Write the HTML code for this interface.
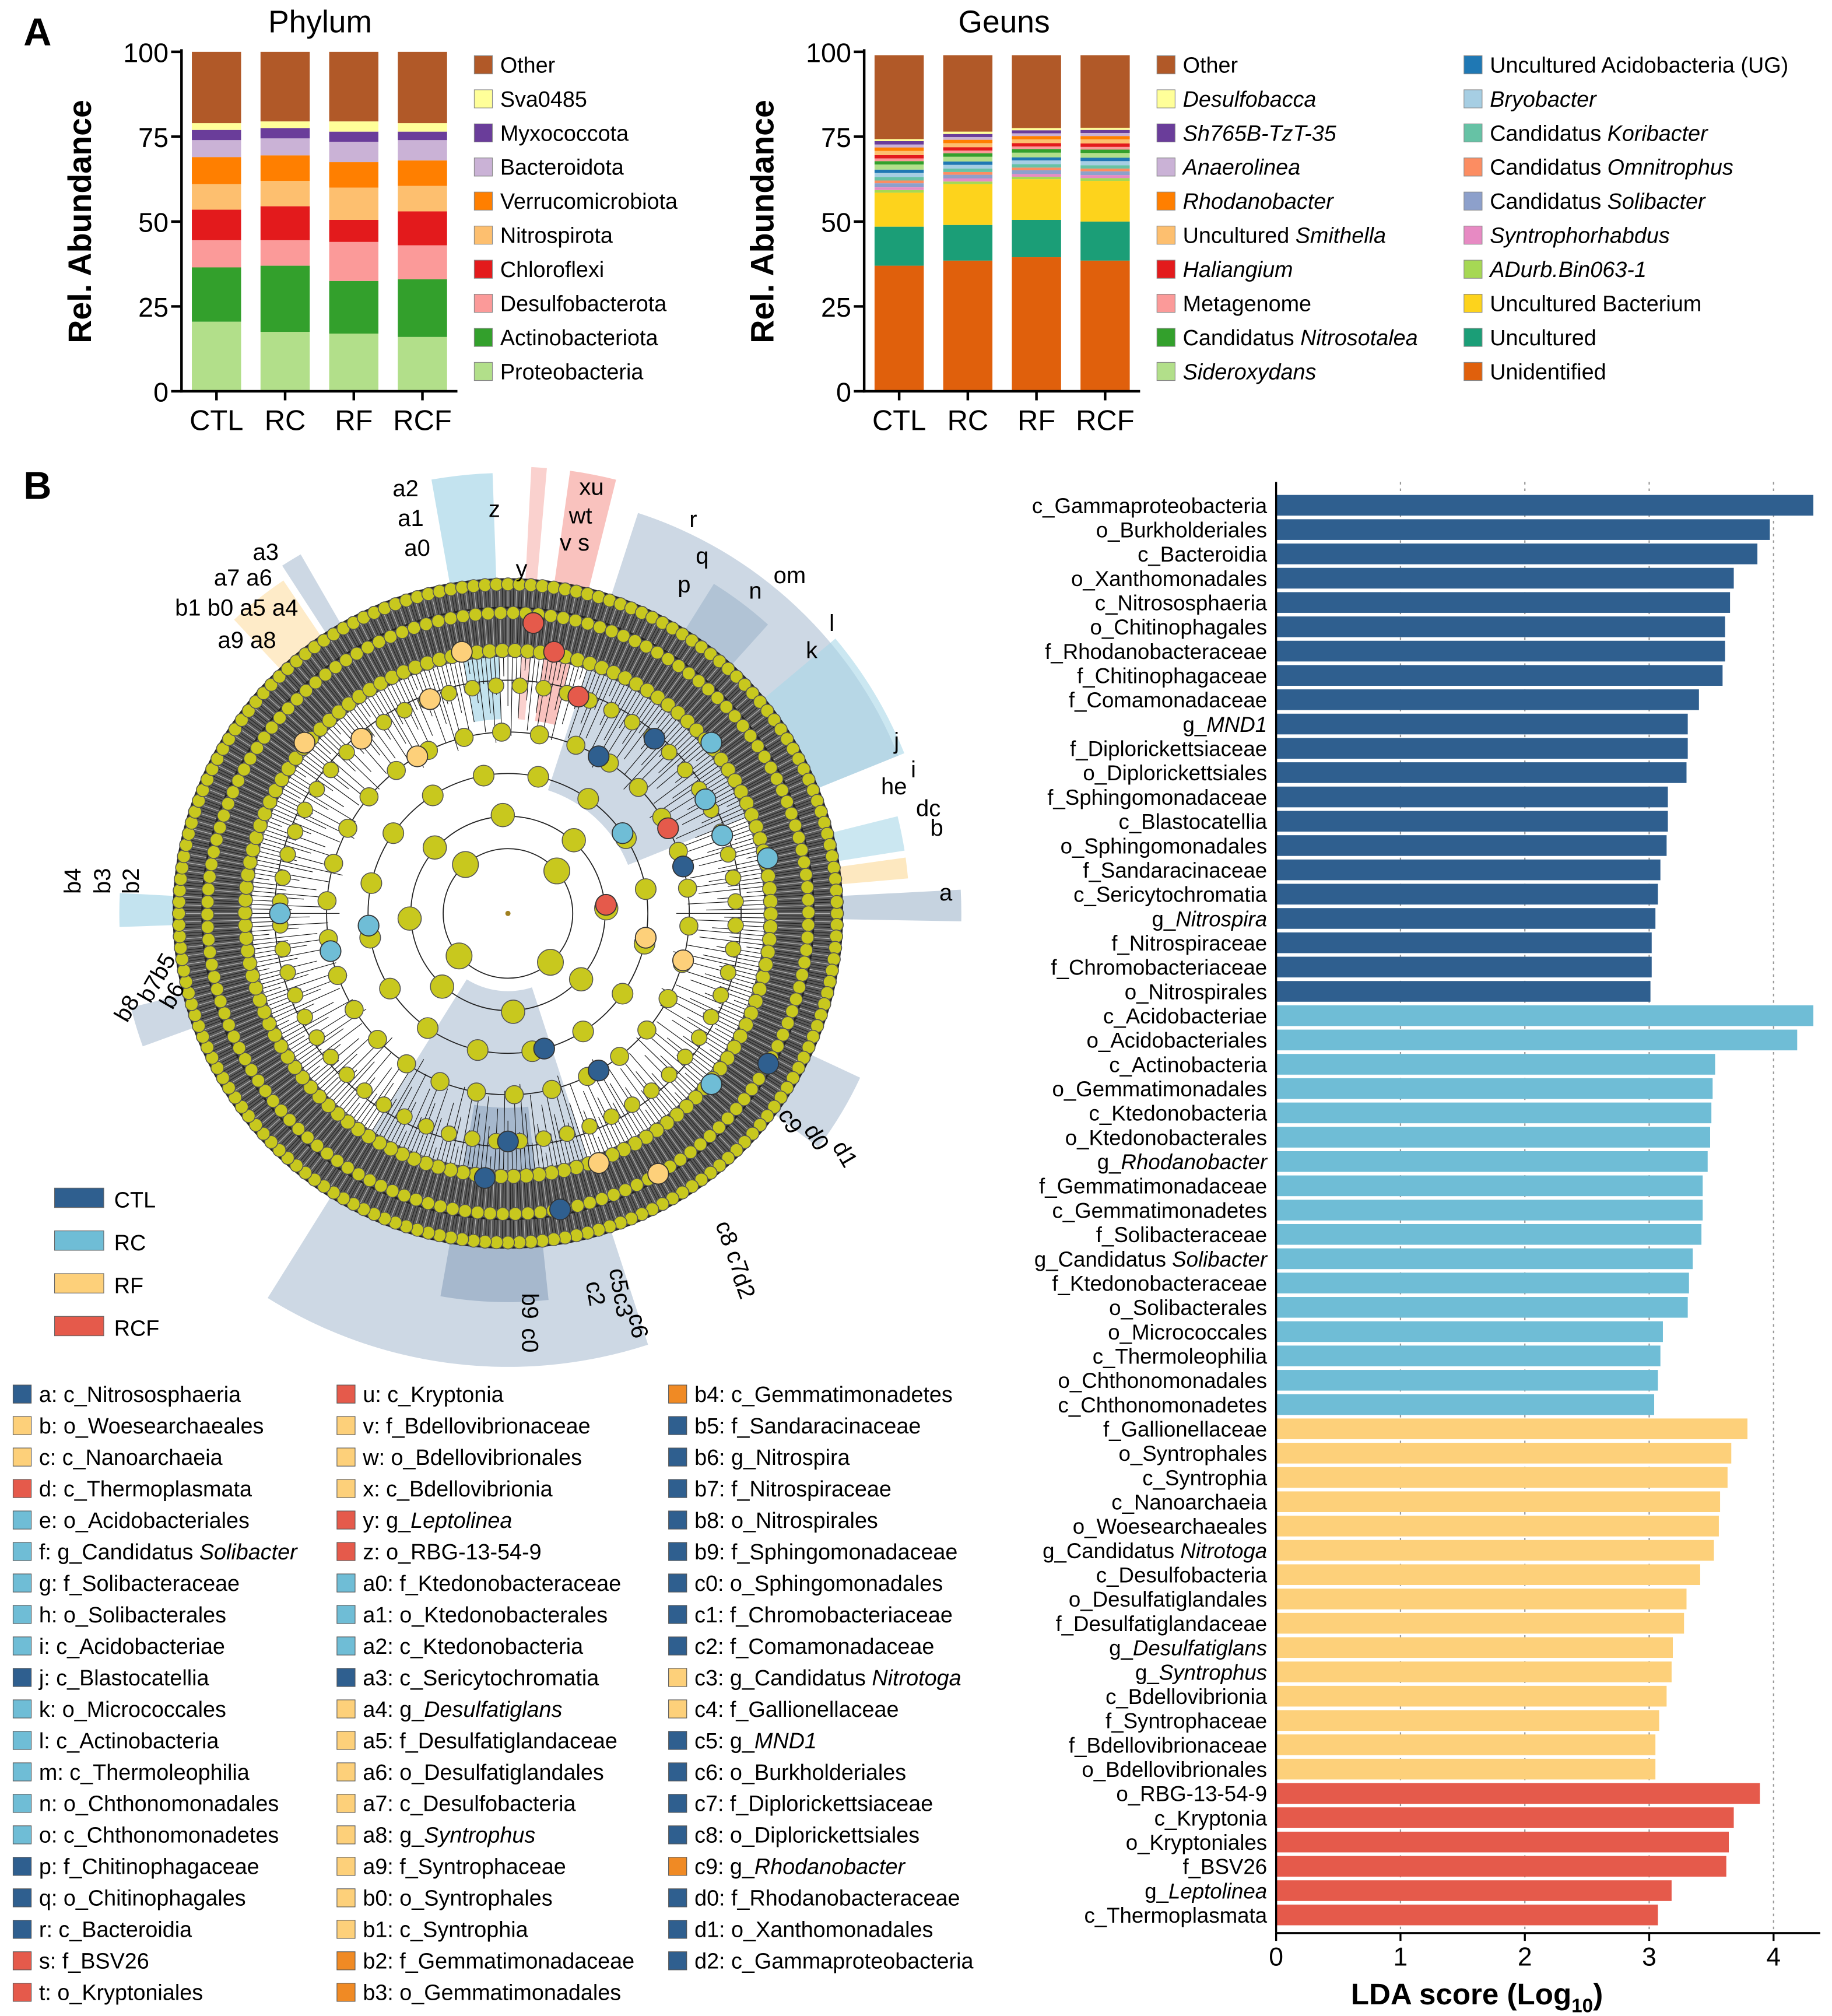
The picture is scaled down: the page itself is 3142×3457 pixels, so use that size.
<!DOCTYPE html>
<html><head><meta charset="utf-8"><style>
html,body{margin:0;padding:0;background:#fff}
svg{display:block;font-family:"Liberation Sans",Arial,sans-serif}
</style></head><body>
<svg id="fig" width="3142" height="3457" viewBox="0 0 1414 1556" xmlns="http://www.w3.org/2000/svg">
<g id="root"></g>
</svg>
<script>
// ---------- DATA ----------
const samples = ["CTL","RC","RF","RCF"];
const phylumNames = ["Proteobacteria","Actinobacteriota","Desulfobacterota","Chloroflexi","Nitrospirota","Verrucomicrobiota","Bacteroidota","Myxococcota","Sva0485","Other"];
const phylumColors = ["#b2df8a","#33a02c","#fb9a99","#e31a1c","#fdbf6f","#ff7f00","#cab2d6","#6a3d9a","#ffff99","#b15928"];
const phylumCTL = [20.5,16,8,9,7.5,8,5,3,2,21];
const phylumRC  = [17.5,19.5,7.5,10,7.5,7.5,5,3,2,20.5];
const phylumRF  = [17,15.5,11.5,6.5,9.5,7.5,6,3,3,20.5];
const phylumRCF = [16,17,10,10,7.5,7.5,6,2.5,2.5,21];

const genusNames = ["Unidentified","Uncultured","Uncultured Bacterium","ADurb.Bin063-1","Syntrophorhabdus","Candidatus Solibacter","Candidatus Omnitrophus","Candidatus Koribacter","Bryobacter","Uncultured Acidobacteria (UG)","Sideroxydans","Candidatus Nitrosotalea","Metagenome","Haliangium","Uncultured Smithella","Rhodanobacter","Anaerolinea","Sh765B-TzT-35","Desulfobacca","Other"];
const genusColors = ["#e0600c","#1b9e77","#fdd31c","#a6d854","#e78ac3","#8da0cb","#fc8d62","#66c2a5","#a6cee3","#1f78b4","#b2df8a","#33a02c","#fb9a99","#e31a1c","#fdbf6f","#ff7f00","#cab2d6","#6a3d9a","#ffff99","#b15928"];
const genusCTL = [37,11.5,10,0.8,0.8,1.2,0.8,1,1.2,1,1.5,1,0.8,1,1.2,1,0.9,1,0.6,24.7];
const genusRC  = [38.5,10.5,12,0.8,0.9,1.1,0.8,1,1.1,1,1.4,1,0.8,1,1.2,1,0.8,0.9,0.7,22.5];
const genusRF  = [39.5,11,12,0.7,0.8,1.1,0.8,1,1.1,0.9,1.4,1,0.8,1,1.1,1,0.8,0.9,0.6,21.5];
const genusRCF = [38.5,11.5,12,0.8,0.9,1.1,0.8,1,1.2,1,1.4,1,0.8,1,1.2,1,0.9,0.9,0.6,21.4];
const yTicks = [0,25,50,75,100];

const ldaLabels = ["c_Gammaproteobacteria","o_Burkholderiales","c_Bacteroidia","o_Xanthomonadales","c_Nitrososphaeria","o_Chitinophagales","f_Rhodanobacteraceae","f_Chitinophagaceae","f_Comamonadaceae","g_<tspan font-style='italic'>MND1</tspan>","f_Diplorickettsiaceae","o_Diplorickettsiales","f_Sphingomonadaceae","c_Blastocatellia","o_Sphingomonadales","f_Sandaracinaceae","c_Sericytochromatia","g_<tspan font-style='italic'>Nitrospira</tspan>","f_Nitrospiraceae","f_Chromobacteriaceae","o_Nitrospirales",
"c_Acidobacteriae","o_Acidobacteriales","c_Actinobacteria","o_Gemmatimonadales","c_Ktedonobacteria","o_Ktedonobacterales","g_<tspan font-style='italic'>Rhodanobacter</tspan>","f_Gemmatimonadaceae","c_Gemmatimonadetes","f_Solibacteraceae","g_Candidatus <tspan font-style='italic'>Solibacter</tspan>","f_Ktedonobacteraceae","o_Solibacterales","o_Micrococcales","c_Thermoleophilia","o_Chthonomonadales","c_Chthonomonadetes",
"f_Gallionellaceae","o_Syntrophales","c_Syntrophia","c_Nanoarchaeia","o_Woesearchaeales","g_Candidatus <tspan font-style='italic'>Nitrotoga</tspan>","c_Desulfobacteria","o_Desulfatiglandales","f_Desulfatiglandaceae","g_<tspan font-style='italic'>Desulfatiglans</tspan>","g_<tspan font-style='italic'>Syntrophus</tspan>","c_Bdellovibrionia","f_Syntrophaceae","f_Bdellovibrionaceae","o_Bdellovibrionales",
"o_RBG-13-54-9","c_Kryptonia","o_Kryptoniales","f_BSV26","g_<tspan font-style='italic'>Leptolinea</tspan>","c_Thermoplasmata"];
const ldaValues = [4.32,3.97,3.87,3.68,3.65,3.61,3.61,3.59,3.40,3.31,3.31,3.30,3.15,3.15,3.14,3.09,3.07,3.05,3.02,3.02,3.01,
4.32,4.19,3.53,3.51,3.50,3.49,3.47,3.43,3.43,3.42,3.35,3.32,3.31,3.11,3.09,3.07,3.04,
3.79,3.66,3.63,3.57,3.56,3.52,3.41,3.30,3.28,3.19,3.18,3.14,3.08,3.05,3.05,
3.89,3.68,3.64,3.62,3.18,3.07];
const ldaGroups = [].concat(Array(21).fill("CTL"),Array(17).fill("RC"),Array(15).fill("RF"),Array(6).fill("RCF"));
const ldaTicks = [0,1,2,3,4];
const groupColors = {CTL:"#2f5f8f",RC:"#6fbdd6",RF:"#fdd07a",RCF:"#e55a4b",OR:"#f08a24"};

const keyEntries = ["a: c_Nitrososphaeria","b: o_Woesearchaeales","c: c_Nanoarchaeia","d: c_Thermoplasmata","e: o_Acidobacteriales","f: g_Candidatus <tspan font-style='italic'>Solibacter</tspan>","g: f_Solibacteraceae","h: o_Solibacterales","i: c_Acidobacteriae","j: c_Blastocatellia","k: o_Micrococcales","l: c_Actinobacteria","m: c_Thermoleophilia","n: o_Chthonomonadales","o: c_Chthonomonadetes","p: f_Chitinophagaceae","q: o_Chitinophagales","r: c_Bacteroidia","s: f_BSV26","t: o_Kryptoniales",
"u: c_Kryptonia","v: f_Bdellovibrionaceae","w: o_Bdellovibrionales","x: c_Bdellovibrionia","y: g_<tspan font-style='italic'>Leptolinea</tspan>","z: o_RBG-13-54-9","a0: f_Ktedonobacteraceae","a1: o_Ktedonobacterales","a2: c_Ktedonobacteria","a3: c_Sericytochromatia","a4: g_<tspan font-style='italic'>Desulfatiglans</tspan>","a5: f_Desulfatiglandaceae","a6: o_Desulfatiglandales","a7: c_Desulfobacteria","a8: g_<tspan font-style='italic'>Syntrophus</tspan>","a9: f_Syntrophaceae","b0: o_Syntrophales","b1: c_Syntrophia","b2: f_Gemmatimonadaceae","b3: o_Gemmatimonadales",
"b4: c_Gemmatimonadetes","b5: f_Sandaracinaceae","b6: g_Nitrospira","b7: f_Nitrospiraceae","b8: o_Nitrospirales","b9: f_Sphingomonadaceae","c0: o_Sphingomonadales","c1: f_Chromobacteriaceae","c2: f_Comamonadaceae","c3: g_Candidatus <tspan font-style='italic'>Nitrotoga</tspan>","c4: f_Gallionellaceae","c5: g_<tspan font-style='italic'>MND1</tspan>","c6: o_Burkholderiales","c7: f_Diplorickettsiaceae","c8: o_Diplorickettsiales","c9: g_<tspan font-style='italic'>Rhodanobacter</tspan>","d0: f_Rhodanobacteraceae","d1: o_Xanthomonadales","d2: c_Gammaproteobacteria"];
const keyGroups = ["CTL","RF","RF","RCF","RC","RC","RC","RC","RC","CTL","RC","RC","RC","RC","RC","CTL","CTL","CTL","RCF","RCF",
"RCF","RF","RF","RF","RCF","RCF","RC","RC","RC","CTL","RF","RF","RF","RF","RF","RF","RF","RF","OR","OR",
"OR","CTL","CTL","CTL","CTL","CTL","CTL","CTL","CTL","RF","RF","CTL","CTL","CTL","CTL","OR","CTL","CTL","CTL"];

// ---------- HELPERS ----------
const NS="http://www.w3.org/2000/svg";
const root=document.getElementById('root');
function el(tag,attrs,parent){const e=document.createElementNS(NS,tag);for(const k in attrs)e.setAttribute(k,attrs[k]);(parent||root).appendChild(e);return e;}
function txt(x,y,s,attrs,parent){const t=el('text',Object.assign({x:x,y:y},attrs||{}),parent);t.innerHTML=s;return t;}

// ---------- PANEL A ----------
txt(18,35,"A",{"font-size":30,"font-weight":"bold"});
function stackChart(name,ax,title,titleX,series,colors){
  const g=el('g',{});
  
  
  const y0=302,y1=40;
  const ys=v=>y0-(v/100)*(y0-y1);
  const centers=[ax+27,ax+80,ax+133,ax+186];
  const tt=txt(titleX,25,title,{"font-size":24,"text-anchor":"middle"},g);
  
  const yl=txt(0,0,"Rel. Abundance",{"font-size":25,"font-weight":"bold","text-anchor":"middle",transform:`translate(${ax-70},171) rotate(-90)`},g);
  
  series.forEach((arr,si)=>{
    let acc=0;
    arr.forEach((v,k)=>{
      const r=el('rect',{x:centers[si]-19,y:ys(acc+v),width:38,height:ys(acc)-ys(acc+v),fill:colors[k]},g);
      
      
      acc+=v;
    });
    const xl=txt(centers[si],332,samples[si],{"font-size":22,"text-anchor":"middle"},g);
    
  });
  el('line',{x1:ax,y1:y1-2,x2:ax,y2:y0+1,stroke:"#000","stroke-width":2},g);
  el('line',{x1:ax-1,y1:y0,x2:ax+213,y2:y0,stroke:"#000","stroke-width":2},g);
  yTicks.forEach(t=>{
    el('line',{x1:ax-8,y1:ys(t),x2:ax,y2:ys(t),stroke:"#000","stroke-width":2},g);
    const tl=txt(ax-10,ys(t)+8,t,{"font-size":21,"text-anchor":"end"},g);
    
  });
  centers.forEach(c=>el('line',{x1:c,y1:y0,x2:c,y2:y0+7,stroke:"#000","stroke-width":2},g));
  return g;
}
stackChart('phylum-chart',140,"Phylum",247,[phylumCTL,phylumRC,phylumRF,phylumRCF],phylumColors);
stackChart('genus-chart',667,"Geuns",775,[genusCTL,genusRC,genusRF,genusRCF],genusColors);

function legend(x,y0,names,colors,name,italicSet){
  const g=el('g',{});
  
  
  names.forEach((n,i)=>{
    const y=y0+i*26.3;
    el('rect',{x:x,y:y-7,width:14,height:14,fill:colors[i],stroke:"#888","stroke-width":0.5},g);
    const t=txt(x+20,y+6,n,{"font-size":17},g);
    
  });
}
legend(366,50,phylumNames.slice().reverse(),phylumColors.slice().reverse(),'phylum-legend');
const gl1=["Other","<tspan font-style='italic'>Desulfobacca</tspan>","<tspan font-style='italic'>Sh765B-TzT-35</tspan>","<tspan font-style='italic'>Anaerolinea</tspan>","<tspan font-style='italic'>Rhodanobacter</tspan>","Uncultured <tspan font-style='italic'>Smithella</tspan>","<tspan font-style='italic'>Haliangium</tspan>","Metagenome","Candidatus <tspan font-style='italic'>Nitrosotalea</tspan>","<tspan font-style='italic'>Sideroxydans</tspan>"];
const gl2=["Uncultured Acidobacteria (UG)","<tspan font-style='italic'>Bryobacter</tspan>","Candidatus <tspan font-style='italic'>Koribacter</tspan>","Candidatus <tspan font-style='italic'>Omnitrophus</tspan>","Candidatus <tspan font-style='italic'>Solibacter</tspan>","<tspan font-style='italic'>Syntrophorhabdus</tspan>","<tspan font-style='italic'>ADurb.Bin063-1</tspan>","Uncultured Bacterium","Uncultured","Unidentified"];
const gc=genusColors.slice().reverse();
legend(893,50,gl1,gc.slice(0,10),'genus-legend-col1');
legend(1130,50,gl2,gc.slice(10),'genus-legend-col2');

// ---------- PANEL B: CLADOGRAM ----------
txt(18,385,"B",{"font-size":30,"font-weight":"bold"});
const cg=el('g',{});


const CX=392,CY=705;
const P=(r,a)=>[CX+r*Math.cos(a*Math.PI/180),CY+r*Math.sin(a*Math.PI/180)];
function sector(r0,r1,a0,a1,fill,op){
  const [x0,y0]=P(r1,a0),[x1,y1]=P(r1,a1),[x2,y2]=P(r0,a1),[x3,y3]=P(r0,a0);
  const lg=(a1-a0)>180?1:0;
  el('path',{d:`M${x0},${y0}A${r1},${r1} 0 ${lg} 1 ${x1},${y1}L${x2},${y2}A${r0},${r0} 0 ${lg} 0 ${x3},${y3}Z`,fill:fill,opacity:op},cg);
}
// highlighted clades
sector(60,350,72,122,"#b8c8d8",0.7);
sector(100,325,-72,-22,"#b8c8d8",0.7);
sector(200,330,-40,-22,"#a9d7e8",0.6);
sector(230,300,-58,-48,"#9fb6cc",0.6);
sector(150,345,-82,-76,"#f6a8a2",0.7);
sector(150,345,-87,-85,"#f6b3ae",0.6);
sector(150,340,-100,-92,"#a9d7e8",0.7);
sector(200,320,-123,-120,"#b8c8d8",0.7);
sector(200,310,-133,-124,"#fde2b0",0.7);
sector(200,310,-8,-5,"#fde2b0",0.8);
sector(200,310,-14,-9,"#a9d7e8",0.6);
sector(200,350,-3,1,"#b8c8d8",0.8);
sector(220,300,178,183,"#a9d7e8",0.7);
sector(220,300,160,166,"#b8c8d8",0.7);
sector(200,300,25,37,"#b8c8d8",0.7);
sector(150,300,84,100,"#8ca3be",0.6);
// dark ring
sector(198,258,0,359.99,"#5a5a5a",1);
for(let i=0;i<720;i++){const a=i*0.5;const [x1,y1]=P(198,a),[x2,y2]=P(258,a);el('line',{x1,y1,x2,y2,stroke:(i%3?"#222":"#bbb"),"stroke-width":0.5},cg);}
for(let i=0;i<360;i++){const a=i;const r=130+((i*37)%60);const [x1,y1]=P(r,a),[x2,y2]=P(198,a);el('line',{x1,y1,x2,y2,stroke:"#111","stroke-width":0.5},cg);}
[258,236,205,180,140,108,75,50].forEach(r=>el('circle',{cx:CX,cy:CY,r:r,fill:"none",stroke:"#222","stroke-width":r>190?1.5:0.8},cg));
// yellow dots
[[254,180,5],[232,150,5],[203,130,5.5],[176,60,6],[140,30,7],[108,16,8],[76,8,9],[50,4,10]].forEach(([r,n,s],ri)=>{
  for(let i=0;i<n;i++){const a=i*360/n+ri*7;const [x,y]=P(r,a);el('circle',{cx:x,cy:y,r:s,fill:"#c8c81e",stroke:"#555","stroke-width":0.7},cg);}
});
// colored nodes
const nodes=[[-85,225,"RCF"],[-80,205,"RCF"],[-72,176,"RCF"],[-28,140,"RCF"],[-5,76,"RCF"],[-60,140,"CTL"],[-50,176,"CTL"],[-40,205,"RC"],[-30,176,"RC"],[-20,176,"RC"],[-12,205,"RC"],[-100,205,"RF"],[-110,176,"RF"],[-120,140,"RF"],[-130,176,"RF"],[-140,205,"RF"],[180,176,"RC"],[175,108,"RC"],[168,140,"RC"],[60,140,"CTL"],[75,108,"CTL"],[90,176,"CTL"],[95,205,"CTL"],[80,232,"CTL"],[70,205,"RF"],[60,232,"RF"],[40,205,"RC"],[30,232,"CTL"],[15,140,"RF"],[10,108,"RF"],[-15,140,"CTL"],[-35,108,"RC"]];
nodes.forEach(([a,r,g])=>{const [x,y]=P(r,a);el('circle',{cx:x,cy:y,r:8,fill:groupColors[g],stroke:"#333","stroke-width":0.8},cg);});
el('circle',{cx:CX,cy:CY,r:2,fill:"#a08020"},cg);
// clade letters
const cl=[["a",725,695,0],["b",718,645,0],["dc",707,630,0],["he",680,613,0],["i",703,600,0],["j",690,578,0],["k",622,508,0],["l",640,487,0],["om",597,450,0],["n",578,462,0],["r",532,407,0],["q",537,435,0],["p",523,457,0],["xu",447,382,0],["wt",439,404,0],["v s",432,425,0],["z",377,399,0],["y",398,445,0],["a2",303,383,0],["a1",307,406,0],["a0",312,429,0],["a3",195,432,0],["a7 a6",165,452,0],["a5 a4",185,475,0],["b1 b0",135,475,0],["a9 a8",168,500,0],["b4",62,690,-90],["b3",85,690,-90],["b2",107,690,-90],["b8",98,790,-60],["b7b5",116,775,-60],["b6",133,780,-60],["c9",600,860,60],["d0",620,872,60],["d1",642,885,60],["c8 c7",552,945,70],["d2",565,985,70],["c6",485,1015,80],["c5c3",470,980,80],["c2",452,990,80],["b9",403,998,90],["c0",403,1025,90]];
cl.forEach(([s,x,y,r])=>txt(0,0,s,{"font-size":18,transform:`translate(${x},${y}) rotate(${r})`},cg));
// group legend
["CTL","RC","RF","RCF"].forEach((g,i)=>{
  const y=925+i*33;
  const r=el('rect',{x:42,y:y-8,width:38,height:15,fill:groupColors[g],stroke:"#666","stroke-width":0.5});
  
  const t=txt(88,y+7,g,{"font-size":17});
  
});
// key list
const kg=el('g',{});


keyEntries.forEach((s,i)=>{
  const col=Math.floor(i/20),row=i%20;
  const x=[10,260,516][col],y=1076+row*24.3;
  el('rect',{x:x,y:y-7,width:14,height:14,fill:groupColors[keyGroups[i]],stroke:"#555","stroke-width":0.5},kg);
  const t=txt(x+20,y+6,s,{"font-size":17},kg);
  
});

// ---------- LDA BAR CHART ----------
const lg=el('g',{});


const X0=985,PX=96,TOP=372,BOT=1492;
const xs=v=>X0+v*PX;
const yb=i=>390+i*((1478-390)/(ldaValues.length-1));
ldaTicks.forEach(t=>{ if(t>0) el('line',{x1:xs(t),y1:TOP,x2:xs(t),y2:BOT,stroke:"#999","stroke-width":1,"stroke-dasharray":"2,3"},lg); });
ldaValues.forEach((v,i)=>{
  const r=el('rect',{x:X0,y:yb(i)-8,width:xs(v)-X0,height:16,fill:groupColors[ldaGroups[i]]},lg);
  
  
  const t=txt(X0-7,yb(i)+6,ldaLabels[i],{"font-size":16.5,"text-anchor":"end"},lg);
  
});
el('line',{x1:X0,y1:TOP,x2:X0,y2:BOT,stroke:"#000","stroke-width":1.5},lg);
el('line',{x1:X0,y1:BOT,x2:1405,y2:BOT,stroke:"#000","stroke-width":1.5},lg);
ldaTicks.forEach(t=>{
  el('line',{x1:xs(t),y1:BOT,x2:xs(t),y2:BOT+6,stroke:"#000","stroke-width":1.5},lg);
  const tl=txt(xs(t),BOT+25,t,{"font-size":20,"text-anchor":"middle"},lg);
  
});
const xt=txt(1140,1547,"LDA score (Log<tspan font-size='15' dy='6'>10</tspan><tspan dy='-6'>)</tspan>",{"font-size":23,"font-weight":"bold","text-anchor":"middle"},lg);

</script>
</body></html>
